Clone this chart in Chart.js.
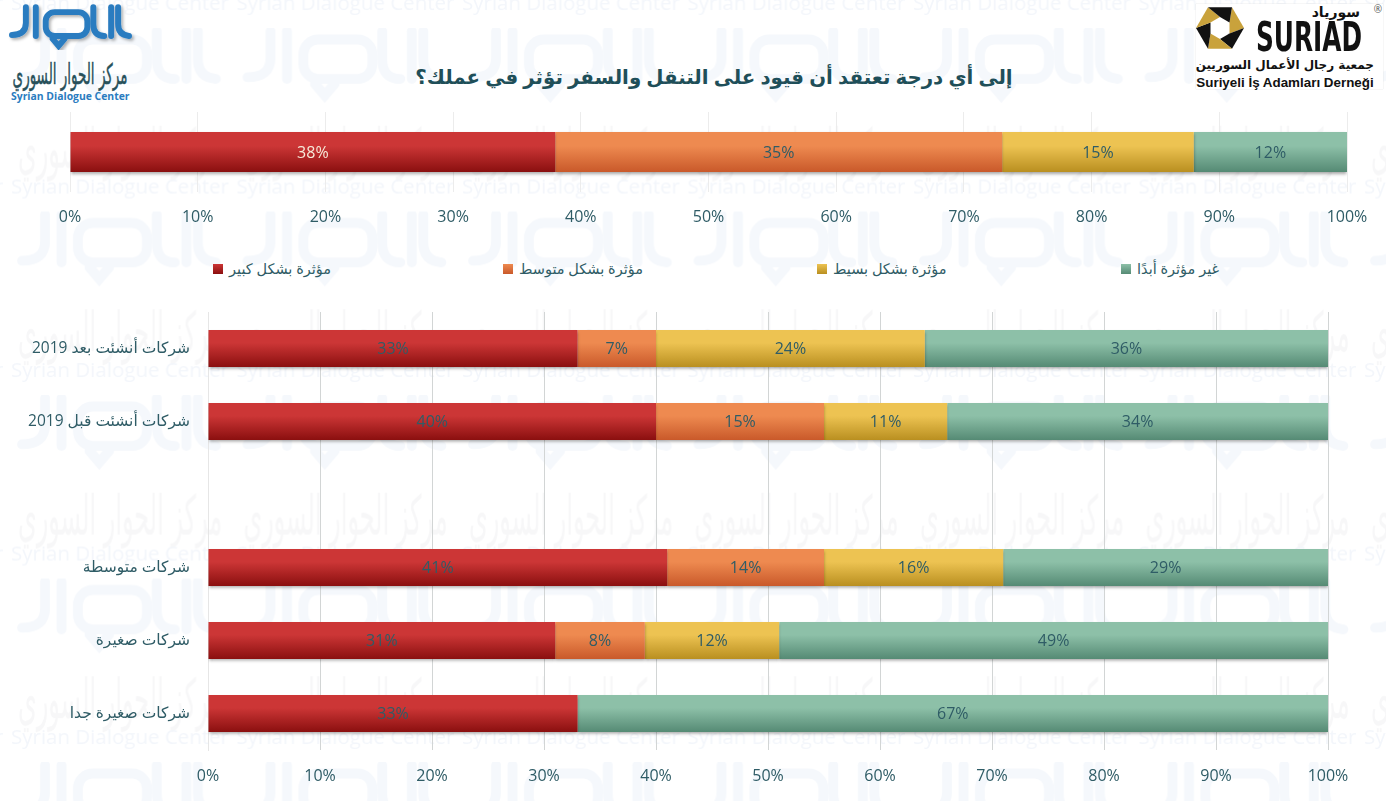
<!DOCTYPE html>
<html lang="ar">
<head>
<meta charset="utf-8">
<title>قيود التنقل والسفر</title>
<script src="https://cdn.jsdelivr.net/npm/chart.js"></script>
<style>
  html, body { margin: 0; background: #fff; }
  body { position: relative; width: 1386px; height: 801px; overflow: hidden; font-family: "Open Sans", "DejaVu Sans", sans-serif; color: #2f5c66; }
  .abs { position: absolute; }
  #bg { left: 0; top: 0; }
  #title { left: 304px; width: 820px; top: 63px; text-align: center; font-size: 19.8px; font-weight: bold; color: #1f4f59; direction: rtl; white-space: nowrap; }
  #topWrap { left: 0; top: 100px; width: 1386px; height: 140px; }
  #mainWrap { left: 0; top: 300px; width: 1386px; height: 501px; }
  .legend-item { position: absolute; top: 259px; height: 20px; line-height: 20px; font-size: 14.5px; white-space: nowrap; display: flex; align-items: center; gap: 6px; }
  .legend-item i { width: 10px; height: 10px; display: block; }
  .legend-item span { direction: rtl; }
  #suriad { left: 1196px; top: 4px; width: 187px; height: 85px; background: #fff; box-shadow: 0 0 1px #ccc; }
  #suriad div { position: absolute; white-space: nowrap; color: #111; }
</style>
</head>
<body>

<svg id="bg" class="abs" width="1386" height="801" xmlns="http://www.w3.org/2000/svg">
  <defs>
    <symbol id="mark" viewBox="0 0 120 42" overflow="visible">
      <g fill="none" stroke="currentColor" stroke-width="6" stroke-linecap="round">
        <path d="M1 30 Q15 30 15 18 V2"/>
        <path d="M25 2 V31"/>
        <rect x="35" y="7" width="42" height="24" rx="9"/>
        <path d="M42 34 L48 41 L54 34"/>
        <path d="M83 2 V19 Q83 31 94 31"/>
        <path d="M101 2 V31"/>
        <path d="M108 2 V19 Q108 30 119 31"/>
      </g>
    </symbol>
    <pattern id="tile" x="10" y="28" width="225.5" height="183.5" patternUnits="userSpaceOnUse">
      <use href="#mark" x="10" y="0" width="198" height="69" color="#f5f8fc"/>
      <text transform="translate(110,140) scale(1,2.3)" text-anchor="middle" direction="rtl" font-size="24" font-family="DejaVu Sans" fill="#f7f7f8">مركز الحوار السوري</text>
      <text x="110" y="166" text-anchor="middle" font-size="20.5" font-family="Open Sans" fill="#f3f6fb">Syrian Dialogue Center</text>
    </pattern>
    <filter id="soft"><feDropShadow dx="2" dy="2" stdDeviation="1.5" flood-color="#000" flood-opacity="0.3"/></filter>
  </defs>
  <rect width="1386" height="801" fill="url(#tile)"/>
  <use href="#mark" x="11" y="5" width="119" height="42" color="#2a7cc0" filter="url(#soft)"/>
  <text transform="translate(70,84) scale(1,2.1)" text-anchor="middle" direction="rtl" font-size="13.5" font-family="DejaVu Sans" fill="#27505a" stroke="#27505a" stroke-width="0.25">مركز الحوار السوري</text>
  <text x="11" y="100" font-size="10.4" font-weight="bold" font-family="Open Sans" fill="#2a7cc0">Syrian Dialogue Center</text>
</svg>

<div id="title" class="abs">إلى أي درجة تعتقد أن قيود على التنقل والسفر تؤثر في عملك؟</div>

<div id="topWrap" class="abs"><canvas id="topChart"></canvas></div>
<div id="legend"></div>
<div id="mainWrap" class="abs"><canvas id="mainChart" dir="rtl"></canvas></div>

<div id="suriad" class="abs">
  <svg class="abs" style="left:0;top:0" width="48" height="48" viewBox="-24 -24 48 48">
    <defs><polygon id="blade" points="24,0 12,20.8 0,11 9.5,5.5"/></defs>
    <use href="#blade" transform="rotate(-60)" fill="#c9a23c"/>
    <use href="#blade" transform="rotate(0)" fill="#111"/>
    <use href="#blade" transform="rotate(60)" fill="#c9a23c"/>
    <use href="#blade" transform="rotate(120)" fill="#111"/>
    <use href="#blade" transform="rotate(180)" fill="#c9a23c"/>
    <use href="#blade" transform="rotate(240)" fill="#111"/>
  </svg>
  <div style="right:23px;top:0;font-size:14px;font-weight:bold;direction:rtl;font-family:'DejaVu Sans'">سورياد</div>
  <div style="left:60px;top:11px;font-size:40px;line-height:44px;font-weight:900;font-family:'DejaVu Sans';transform:scaleX(0.62);transform-origin:left top">SURIAD</div>
  <div style="left:0;width:178px;top:54px;text-align:center;font-size:12px;font-weight:bold;direction:rtl;font-family:'DejaVu Sans'">جمعية رجال الأعمال السوريين</div>
  <div style="left:0;width:178px;top:71px;text-align:center;font-size:13.4px;font-weight:bold;font-family:'Liberation Sans'">Suriyeli İş Adamları Derneği</div>
  <div style="right:1px;top:-2px;font-size:10px;color:#555">®</div>
</div>

<script>
const seriesNames = ['مؤثرة بشكل كبير', 'مؤثرة بشكل متوسط', 'مؤثرة بشكل بسيط', 'غير مؤثرة أبدًا'];

// chart العام فوق
const topValues = [[38], [35], [15], [12]];

// chart التفصيلي - الصف الفارغ يفصل بين المجموعتين
const categories = ['شركات أنشئت بعد 2019', 'شركات أنشئت قبل 2019', '', 'شركات متوسطة', 'شركات صغيرة', 'شركات صغيرة جدا'];
const strongly = [33, 40, null, 41, 31, 33];
const moderately = [7, 15, null, 14, 8, null];
const slightly = [24, 11, null, 16, 12, null];
const notAtAll = [36, 34, null, 29, 49, 67];

const gradientStops = [
  ['#cc3636', '#8a0f0f'],
  ['#ee8a50', '#c9592a'],
  ['#edc352', '#b98f20'],
  ['#8dc0a8', '#558a74']
];
const legendX = [213, 503, 817, 1121];
const textColor = '#2f5c66';
const fontFamily = '"Open Sans", "DejaVu Sans", sans-serif';

Chart.defaults.animation = false;
Chart.defaults.responsive = true;
Chart.defaults.maintainAspectRatio = false;
Chart.defaults.font.family = fontFamily;
Chart.defaults.color = textColor;

// تدرج عمودي لكل bar
function barGradient(seriesIndex, barPercentage) {
  return function(context) {
    const scale = context.chart.scales.y;
    const solid = gradientStops[seriesIndex][0];
    if (!scale || context.dataIndex === undefined) return solid;
    const center = scale.getPixelForValue(context.dataIndex);
    const half = scale.height / context.chart.data.labels.length * barPercentage / 2;
    if (!isFinite(center) || !isFinite(half)) return solid;
    const g = context.chart.ctx.createLinearGradient(0, center - half, 0, center + half);
    g.addColorStop(0, solid);
    g.addColorStop(0.35, solid);
    g.addColorStop(1, gradientStops[seriesIndex][1]);
    return g;
  };
}

// ظل خفيف تحت الأعمدة
const barShadow = {
  id: 'barShadow',
  beforeDatasetDraw(chart) {
    const c = chart.ctx;
    c.save();
    c.shadowColor = 'rgba(0,0,0,0.35)';
    c.shadowBlur = 3;
    c.shadowOffsetY = 2;
  },
  afterDatasetDraw(chart) {
    chart.ctx.restore();
  }
};

// قيم النسب داخل الأعمدة
const valueLabels = {
  id: 'valueLabels',
  afterDatasetsDraw(chart, args, opts) {
    const c = chart.ctx;
    c.save();
    c.font = '16px ' + fontFamily;
    c.textAlign = 'center';
    c.textBaseline = 'middle';
    chart.data.datasets.forEach(function(ds, i) {
      chart.getDatasetMeta(i).data.forEach(function(bar, j) {
        if (ds.data[j] === null) return;
        c.fillStyle = (opts.firstColor && i === 0) ? opts.firstColor : textColor;
        c.fillText(ds.data[j] + '%', (bar.base + bar.x) / 2, bar.y + 1);
      });
    });
    c.restore();
  }
};

function makeDatasets(rows, barPercentage) {
  return rows.map(function(values, i) {
    return {
      label: seriesNames[i],
      data: values,
      backgroundColor: barGradient(i, barPercentage),
      barPercentage: barPercentage,
      categoryPercentage: 1
    };
  });
}

function percentAxis(gridColor, axisHeight, labelGap) {
  return {
    stacked: true,
    min: 0,
    max: 100,
    afterFit(scale) { scale.height = axisHeight; },
    grid: { color: gridColor, drawTicks: false },
    border: { display: false },
    ticks: {
      stepSize: 10,
      padding: labelGap,
      maxRotation: 0,
      font: { size: 16 },
      callback: function(v) { return v + '%'; }
    }
  };
}

new Chart(document.getElementById('topChart'), {
  type: 'bar',
  data: { labels: [''], datasets: makeDatasets(topValues, 0.5) },
  options: {
    indexAxis: 'y',
    layout: { autoPadding: false, padding: { left: 70, right: 39, top: 12, bottom: 0 } },
    scales: {
      x: percentAxis('#ececec', 48, 16),
      y: { stacked: true, display: false }
    },
    plugins: { legend: { display: false }, tooltip: { enabled: false }, valueLabels: { firstColor: '#f7ead9' } }
  },
  plugins: [barShadow, valueLabels]
});

new Chart(document.getElementById('mainChart'), {
  type: 'bar',
  data: { labels: categories, datasets: makeDatasets([strongly, moderately, slightly, notAtAll], 0.51) },
  options: {
    indexAxis: 'y',
    layout: { autoPadding: false, padding: { left: 0, right: 58, top: 12, bottom: 0 } },
    scales: {
      x: percentAxis('#d2d5d5', 51, 17),
      y: {
        stacked: true,
        // بدون padding إضافي حتى تبقى الصفوف بارتفاع 73
        afterFit(scale) { scale.width = 208; scale.paddingTop = 0; scale.paddingBottom = 0; },
        grid: { drawOnChartArea: false, drawTicks: false },
        border: { color: '#e6e6e6' },
        ticks: { padding: 18, font: { size: 15.5 } }
      }
    },
    plugins: { legend: { display: false }, tooltip: { enabled: false } }
  },
  plugins: [barShadow, valueLabels]
});

// legend مشترك بين الرسمين
seriesNames.forEach(function(name, i) {
  const item = document.createElement('div');
  item.className = 'legend-item';
  item.style.left = legendX[i] + 'px';
  item.innerHTML = '<i style="background:linear-gradient(' + gradientStops[i][0] + ',' + gradientStops[i][1] + ')"></i><span>' + name + '</span>';
  document.getElementById('legend').appendChild(item);
});
</script>
</body>
</html>
